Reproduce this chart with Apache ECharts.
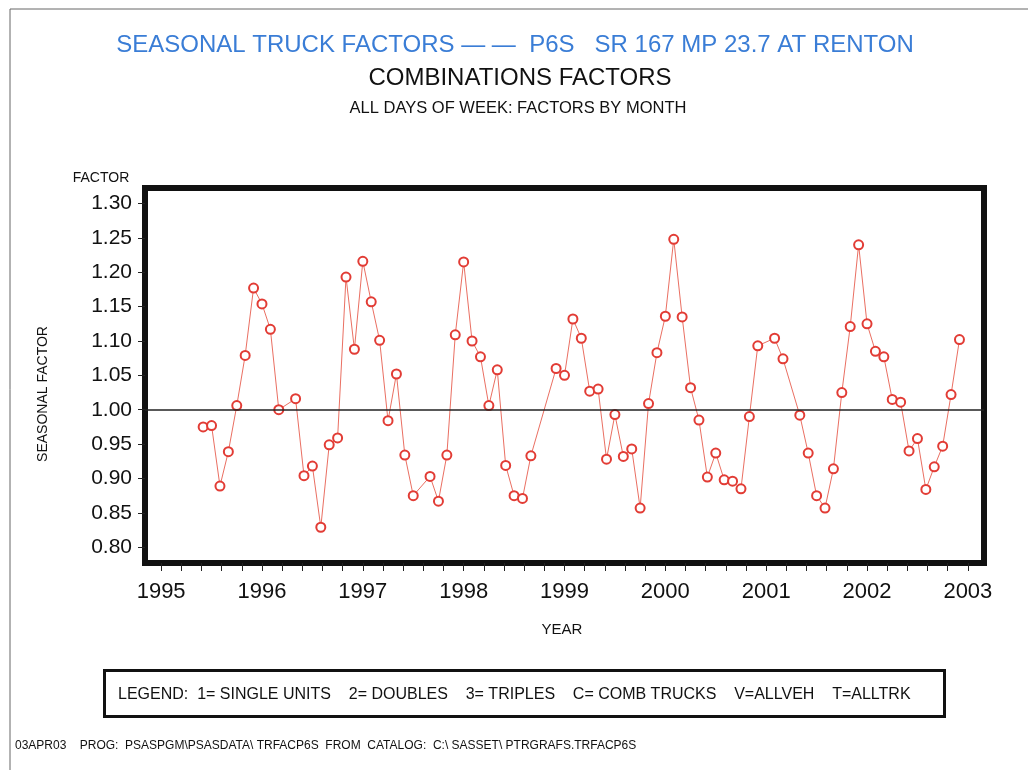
<!DOCTYPE html>
<html>
<head>
<meta charset="utf-8">
<title>Seasonal Truck Factors - P6S</title>
<script src="https://cdn.jsdelivr.net/npm/echarts@6/dist/echarts.min.js"></script>
<style>
	html, body {
		margin: 0;
		padding: 0;
		background: #fff;
	}

	#chart {
		width: 1028px;
		height: 770px;
	}
</style>
</head>
<body>
<div id="chart"></div>
<script>
	// monthly combination truck factors (missing months are simply absent)
	const months = [
		'1995-06', '1995-07', '1995-08', '1995-09', '1995-10', '1995-11', '1995-12',
		'1996-01', '1996-02', '1996-03', '1996-05', '1996-06', '1996-07', '1996-08', '1996-09', '1996-10', '1996-11', '1996-12',
		'1997-01', '1997-02', '1997-03', '1997-04', '1997-05', '1997-06', '1997-07', '1997-09', '1997-10', '1997-11', '1997-12',
		'1998-01', '1998-02', '1998-03', '1998-04', '1998-05', '1998-06', '1998-07', '1998-08', '1998-09', '1998-12',
		'1999-01', '1999-02', '1999-03', '1999-04', '1999-05', '1999-06', '1999-07', '1999-08', '1999-09', '1999-10', '1999-11', '1999-12',
		'2000-01', '2000-02', '2000-03', '2000-04', '2000-05', '2000-06', '2000-07', '2000-08', '2000-09', '2000-10', '2000-11', '2000-12',
		'2001-02', '2001-03', '2001-05', '2001-06', '2001-07', '2001-08', '2001-09', '2001-10', '2001-11', '2001-12',
		'2002-01', '2002-02', '2002-03', '2002-04', '2002-05', '2002-06', '2002-07', '2002-08', '2002-09', '2002-10', '2002-11', '2002-12'
	];
	const combFactors = [
		0.975, 0.977, 0.889, 0.939, 1.006, 1.079, 1.177,
		1.154, 1.117, 1.000, 1.016, 0.904, 0.918, 0.829, 0.949, 0.959, 1.193, 1.088,
		1.216, 1.157, 1.101, 0.984, 1.052, 0.934, 0.875, 0.903, 0.867, 0.934, 1.109,
		1.215, 1.100, 1.077, 1.006, 1.058, 0.919, 0.875, 0.871, 0.933, 1.060,
		1.050, 1.132, 1.104, 1.027, 1.030, 0.928, 0.993, 0.932, 0.943, 0.857, 1.009, 1.083,
		1.136, 1.248, 1.135, 1.032, 0.985, 0.902, 0.937, 0.898, 0.896, 0.885, 0.990, 1.093,
		1.104, 1.074, 0.992, 0.937, 0.875, 0.857, 0.914, 1.025, 1.121, 1.240,
		1.125, 1.085, 1.077, 1.015, 1.011, 0.940, 0.958, 0.884, 0.917, 0.947, 1.022, 1.102
	];
	const yearTicks = [1995, 1996, 1997, 1998, 1999, 2000, 2001, 2002, 2003];
	const factorTicks = [0.80, 0.85, 0.90, 0.95, 1.00, 1.05, 1.10, 1.15, 1.20, 1.25, 1.30];
	const baseLine = 1.00;

	// 月份 -> 小数年份 (January sits on the year tick)
	const seriesData = months.map((m, i) => {
		const parts = m.split('-');
		return [Number(parts[0]) + (Number(parts[1]) - 1) / 12, combFactors[i]];
	});

	// ticks every 0.2 year between the labelled years
	const xTickValues = [];
	for (let i = 0; i < (yearTicks.length - 1) * 5 + 1; i++) {
		xTickValues.push(+(yearTicks[0] + i * 0.2).toFixed(1));
	}

	const FONT = '"Liberation Sans", Arial, Helvetica, sans-serif';

	const myChart = echarts.init(document.getElementById('chart'));
	const option = {
		backgroundColor: '#fff',
		animation: false,
		grid: {
			left: 145,
			right: 44,
			top: 188,
			bottom: 207,
			show: true,
			backgroundColor: '#fff',
			borderColor: '#111',
			borderWidth: 6
		},
		xAxis: {
			type: 'value',
			min: 1994.84,
			max: 2003.16,
			axisLine: {
				show: false
			},
			splitLine: {
				show: false
			},
			axisTick: {
				show: true,
				length: 8,
				customValues: xTickValues,
				lineStyle: {
					color: '#222',
					width: 1
				}
			},
			axisLabel: {
				customValues: yearTicks,
				margin: 18,
				color: '#111',
				fontFamily: FONT,
				fontSize: 22,
				formatter: function(v) {
					return String(Math.round(v));
				}
			}
		},
		yAxis: {
			type: 'value',
			min: 0.777,
			max: 1.3226,
			axisLine: {
				show: false
			},
			splitLine: {
				show: false
			},
			axisTick: {
				show: true,
				length: 7,
				customValues: factorTicks,
				lineStyle: {
					color: '#222',
					width: 1
				}
			},
			axisLabel: {
				customValues: factorTicks,
				margin: 13,
				color: '#111',
				fontFamily: FONT,
				fontSize: 21,
				formatter: function(v) {
					return v.toFixed(2);
				}
			}
		},
		series: [{
			name: 'COMB TRUCKS',
			type: 'line',
			data: seriesData,
			symbol: 'emptyCircle',
			symbolSize: 9,
			lineStyle: {
				color: '#ea6f62',
				width: 1
			},
			itemStyle: {
				color: '#e23c35',
				borderColor: '#e23c35',
				borderWidth: 1
			},
			markLine: {
				silent: true,
				symbol: 'none',
				label: {
					show: false
				},
				lineStyle: {
					color: '#222',
					width: 1.5,
					type: 'solid'
				},
				data: [{
					yAxis: baseLine
				}]
			},
			z: 3
		}],
		graphic: [
			// 扫描页的边线
			{
				type: 'line',
				shape: { x1: 10, y1: 9, x2: 1028, y2: 9 },
				style: { stroke: '#666', lineWidth: 1 }
			},
			{
				type: 'line',
				shape: { x1: 10, y1: 9, x2: 10, y2: 770 },
				style: { stroke: '#666', lineWidth: 1 }
			},
			{
				type: 'text',
				x: 515,
				y: 45,
				style: {
					text: 'SEASONAL TRUCK FACTORS \u2014 \u2014  P6S   SR 167 MP 23.7 AT RENTON',
					fill: '#3a7dd6',
					font: '24px ' + FONT,
					textAlign: 'center',
					textVerticalAlign: 'middle'
				}
			},
			{
				type: 'text',
				x: 520,
				y: 78,
				style: {
					text: 'COMBINATIONS FACTORS',
					fill: '#111',
					font: '24px ' + FONT,
					textAlign: 'center',
					textVerticalAlign: 'middle'
				}
			},
			{
				type: 'text',
				x: 518,
				y: 108,
				style: {
					text: 'ALL DAYS OF WEEK: FACTORS BY MONTH',
					fill: '#111',
					font: '16.5px ' + FONT,
					textAlign: 'center',
					textVerticalAlign: 'middle'
				}
			},
			{
				type: 'text',
				x: 101,
				y: 178,
				style: {
					text: 'FACTOR',
					fill: '#111',
					font: '14px ' + FONT,
					textAlign: 'center',
					textVerticalAlign: 'middle'
				}
			},
			{
				type: 'text',
				x: 43,
				y: 394,
				rotation: Math.PI / 2,
				style: {
					text: 'SEASONAL FACTOR',
					fill: '#111',
					font: '14px ' + FONT,
					textAlign: 'center',
					textVerticalAlign: 'middle'
				}
			},
			{
				type: 'text',
				x: 562,
				y: 630,
				style: {
					text: 'YEAR',
					fill: '#111',
					font: '15px ' + FONT,
					textAlign: 'center',
					textVerticalAlign: 'middle'
				}
			},
			{
				type: 'rect',
				shape: { x: 104.5, y: 670.5, width: 840, height: 46 },
				style: { fill: 'none', stroke: '#111', lineWidth: 3 }
			},
			{
				type: 'text',
				x: 118,
				y: 695,
				style: {
					text: 'LEGEND:  1= SINGLE UNITS    2= DOUBLES    3= TRIPLES    C= COMB TRUCKS    V=ALLVEH    T=ALLTRK',
					fill: '#111',
					font: '16px ' + FONT,
					textAlign: 'left',
					textVerticalAlign: 'middle'
				}
			},
			{
				type: 'text',
				x: 15,
				y: 746,
				style: {
					text: '03APR03    PROG:  PSASPGM\\PSASDATA\\ TRFACP6S  FROM  CATALOG:  C:\\ SASSET\\ PTRGRAFS.TRFACP6S',
					fill: '#111',
					font: '12px ' + FONT,
					textAlign: 'left',
					textVerticalAlign: 'middle'
				}
			}
		]
	};
	myChart.setOption(option);
</script>
</body>
</html>
